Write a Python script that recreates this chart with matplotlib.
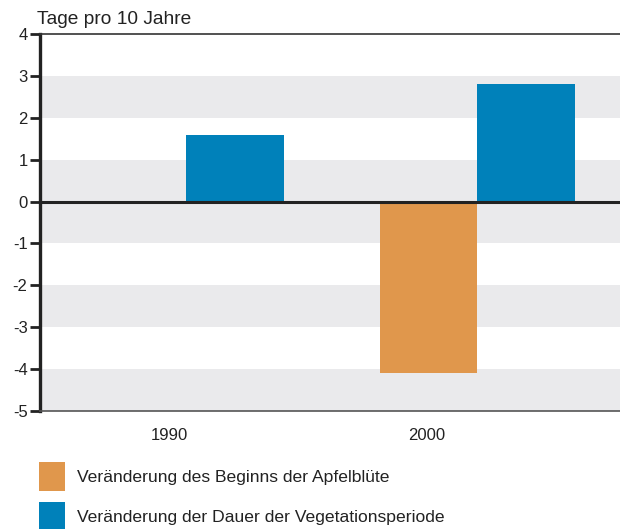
import matplotlib.pyplot as plt
import numpy as np

plt.rcParams['font.family'] = ['Liberation Sans', 'DejaVu Sans']

years = ['1990', '2000']
apfelbluete = [0.0, -4.1]      # Veränderung des Beginns der Apfelblüte
vegetation = [1.6, 2.8]        # Veränderung der Dauer der Vegetationsperiode
labels = ['Veränderung des Beginns der Apfelblüte',
          'Veränderung der Dauer der Vegetationsperiode']

ORANGE = '#E0974C'
BLUE = '#0081BA'
BAND = '#EAEAEC'
TEXT = '#222222'

fig = plt.figure(figsize=(6.2, 5.29), dpi=100)
ax = fig.add_axes([40/620, 1 - 411/529, 580/620, (411-34)/529])

# grey background bands
for lo, hi in [(2, 3), (0, 1), (-1, 0), (-3, -2), (-5, -4)]:
    ax.axhspan(lo, hi, color=BAND, lw=0, zorder=0)

x = np.arange(len(years))
w = 0.336
b1 = ax.bar(x - w/2, apfelbluete, w, color=ORANGE, zorder=2, label=labels[0])
b2 = ax.bar(x + w/2, vegetation, w, color=BLUE, zorder=2, label=labels[1])

ax.axhline(0, color='#222222', lw=2.2, zorder=3)

ax.set_xlim(-0.501, 1.489)
ax.set_ylim(-5, 4)
ax.set_yticks(range(-5, 5))
ax.set_yticklabels([str(v) for v in range(-5, 5)], fontsize=12, color=TEXT)
ax.tick_params(axis='y', direction='out', length=7, width=2, color='#222222', pad=2)

ax.set_xticks([-0.058, 0.827])
ax.set_xticklabels(years, fontsize=12, color=TEXT)
ax.tick_params(axis='x', length=0, pad=12)

ax.spines['right'].set_visible(False)
ax.spines['left'].set_linewidth(2.4)
ax.spines['left'].set_color('#222222')
ax.spines['top'].set_linewidth(1.2)
ax.spines['top'].set_color('#333333')
ax.spines['bottom'].set_linewidth(1.2)
ax.spines['bottom'].set_color('#555555')

fig.text(37/620, 1 - 19/529, 'Tage pro 10 Jahre', fontsize=13.8, color=TEXT, va='center')

fig.legend(handles=[b1, b2], labels=labels, loc='upper left',
           bbox_to_anchor=(39/620, 1 - 462/529), frameon=False, borderpad=0,
           borderaxespad=0, fontsize=12.6, handlelength=1.5, handleheight=2.2,
           handletextpad=0.65, labelspacing=0.6, labelcolor=TEXT)

plt.savefig('out.png')
